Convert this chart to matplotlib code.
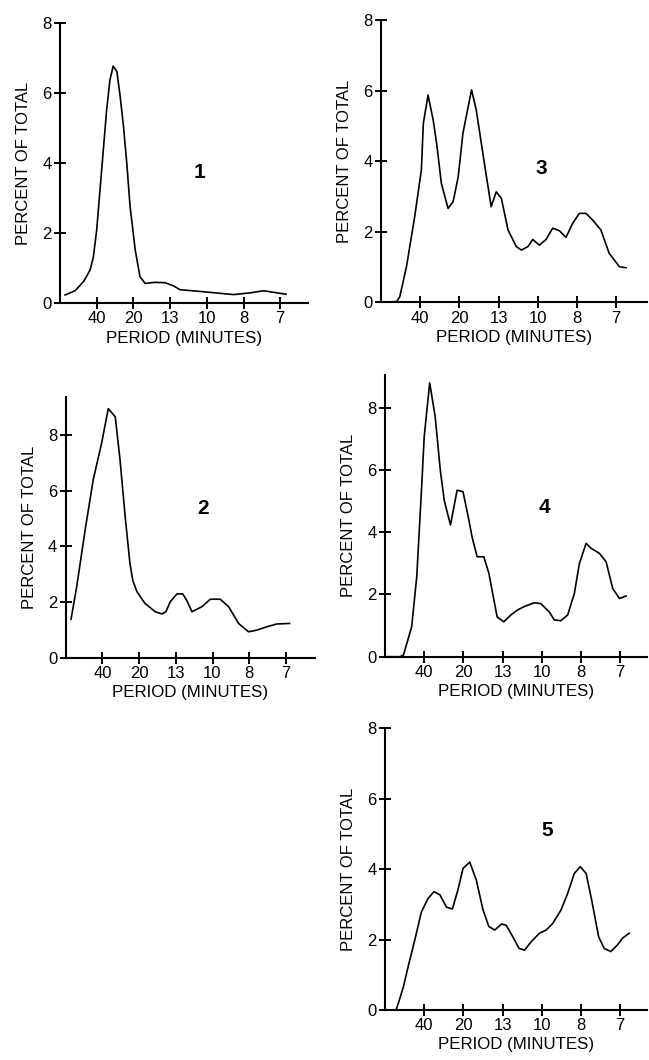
import matplotlib
matplotlib.use("Agg")
import matplotlib.pyplot as plt

plt.rcParams['font.family'] = ['Liberation Sans', 'DejaVu Sans']

period_labels = ["40", "20", "13", "10", "8", "7"]
tick_pos = [1, 2, 3, 4, 5, 6]
y_ticks = [0, 2, 4, 6, 8]

# Panel 1
x1 = [0.14, 0.41, 0.64, 0.82, 0.91, 1.0, 1.09, 1.18, 1.27, 1.36, 1.45, 1.55, 1.64, 1.73,
      1.82, 1.91, 2.05, 2.18, 2.32, 2.59, 2.86, 3.09, 3.27, 3.82, 4.73, 5.18, 5.55, 5.91, 6.16]
y1 = [0.23, 0.35, 0.61, 0.94, 1.32, 2.09, 3.23, 4.37, 5.51, 6.37, 6.77, 6.61, 5.90, 5.04,
      3.99, 2.75, 1.51, 0.75, 0.56, 0.59, 0.58, 0.49, 0.38, 0.33, 0.24, 0.29, 0.35, 0.29, 0.25]

# Panel 2
x2 = [0.145, 0.30, 0.53, 0.75, 0.98, 1.16, 1.35, 1.48, 1.62, 1.75, 1.83, 1.94, 2.16, 2.44,
      2.62, 2.73, 2.85, 3.03, 3.19, 3.30, 3.44, 3.71, 3.94, 4.21, 4.44, 4.71, 4.98, 5.21,
      5.48, 5.75, 6.10]
y2 = [1.38, 2.55, 4.59, 6.39, 7.71, 8.94, 8.65, 7.11, 5.07, 3.39, 2.77, 2.37, 1.95, 1.65,
      1.57, 1.65, 2.01, 2.29, 2.29, 2.05, 1.65, 1.83, 2.10, 2.10, 1.83, 1.23, 0.93, 0.99,
      1.11, 1.21, 1.23]

# Panel 3
x3 = [0.0, 0.40, 0.48, 0.65, 0.86, 1.03, 1.08, 1.20, 1.33, 1.42, 1.54, 1.71, 1.84, 1.97,
      2.09, 2.31, 2.43, 2.56, 2.69, 2.81, 2.94, 3.07, 3.24, 3.45, 3.58, 3.75, 3.87, 4.04,
      4.21, 4.38, 4.55, 4.72, 4.89, 5.06, 5.23, 5.40, 5.61, 5.82, 6.08, 6.25]
y3 = [0.0, 0.02, 0.16, 1.01, 2.43, 3.75, 5.07, 5.87, 5.17, 4.5, 3.37, 2.66, 2.85, 3.56,
      4.79, 6.02, 5.45, 4.5, 3.56, 2.71, 3.13, 2.95, 2.05, 1.58, 1.48, 1.58, 1.78, 1.62,
      1.78, 2.10, 2.03, 1.84, 2.24, 2.52, 2.52, 2.33, 2.05, 1.39, 1.01, 0.98]

# Panel 4
x4 = [0.0, 0.38, 0.47, 0.68, 0.81, 0.94, 1.0, 1.14, 1.28, 1.41, 1.51, 1.67, 1.84, 1.99,
      2.14, 2.22, 2.35, 2.52, 2.65, 2.86, 3.03, 3.21, 3.38, 3.55, 3.80, 3.97, 4.19, 4.32,
      4.49, 4.66, 4.83, 4.96, 5.13, 5.26, 5.47, 5.64, 5.81, 5.98, 6.15]
y4 = [0.0, 0.0, 0.05, 0.96, 2.57, 5.57, 7.07, 8.8, 7.71, 6.0, 5.03, 4.23, 5.35, 5.30,
      4.39, 3.85, 3.21, 3.21, 2.68, 1.28, 1.12, 1.34, 1.50, 1.61, 1.73, 1.71, 1.44, 1.18,
      1.16, 1.34, 2.03, 3.0, 3.64, 3.48, 3.32, 3.05, 2.19, 1.87, 1.95]

# Panel 5
x5 = [0.0, 0.28, 0.34, 0.47, 0.59, 0.76, 0.93, 1.10, 1.25, 1.40, 1.57, 1.72, 1.86, 1.99,
      2.16, 2.33, 2.50, 2.65, 2.80, 2.97, 3.09, 3.26, 3.42, 3.56, 3.73, 3.94, 4.11, 4.28,
      4.49, 4.66, 4.83, 4.98, 5.13, 5.28, 5.45, 5.59, 5.76, 5.93, 6.06, 6.23]
y5 = [0.0, 0.0, 0.19, 0.66, 1.23, 1.99, 2.79, 3.17, 3.36, 3.27, 2.92, 2.87, 3.41, 4.02,
      4.20, 3.69, 2.84, 2.37, 2.27, 2.44, 2.41, 2.08, 1.75, 1.70, 1.94, 2.18, 2.27, 2.46,
      2.84, 3.31, 3.88, 4.07, 3.88, 3.08, 2.08, 1.75, 1.66, 1.85, 2.04, 2.18]

W, H = 649, 1060
fig = plt.figure(figsize=(W / 100, H / 100), dpi=100)
fig.patch.set_facecolor("white")

# (x, y, label, origin_px_x, right_px_x, zero_px_y, top_px_y, ytop, label_xy)
panels = [
    (x1, y1, "1", 60, 308, 303, 23, 8.0, (3.8, 3.74)),
    (x3, y3, "3", 381, 647, 302.3, 20, 8.0, (4.09, 3.8)),
    (x2, y2, "2", 65.7, 315, 657.7, 396.7, 9.37, (3.74, 5.35)),
    (x4, y4, "4", 385, 647, 656.7, 375, 9.05, (4.08, 4.78)),
    (x5, y5, "5", 385, 647, 1010, 728.3, 8.0, (4.15, 5.11)),
]

for xs, ys, num, ox, rx, zy, ty, ytop, lab in panels:
    ax = fig.add_axes([ox / W, (H - zy) / H, (rx - ox) / W, (zy - ty) / H])
    sp = 36.7 if ox < 100 else 39.2
    ax.set_xlim(0, (rx - ox) / sp)
    ax.set_ylim(0, ytop)
    ax.plot(xs, ys, color="black", lw=1.2, solid_joinstyle="round")
    for s in ["top", "right"]:
        ax.spines[s].set_visible(False)
    for s in ["left", "bottom"]:
        ax.spines[s].set_linewidth(1.5)
    ax.set_xticks(tick_pos)
    ax.set_xticklabels(period_labels)
    ax.set_yticks(y_ticks)
    ax.tick_params(direction="inout", length=8, width=1.4, labelsize=12, pad=2)
    ax.set_xlabel("PERIOD (MINUTES)", fontsize=12.2, labelpad=3)
    ax.set_ylabel("PERCENT OF TOTAL", fontsize=12, labelpad=8)
    ax.text(lab[0], lab[1], num, fontsize=15, fontweight="bold", ha="center", va="center")
    ax.patch.set_alpha(0)

fig.savefig("out.png", dpi=100, facecolor="white")
